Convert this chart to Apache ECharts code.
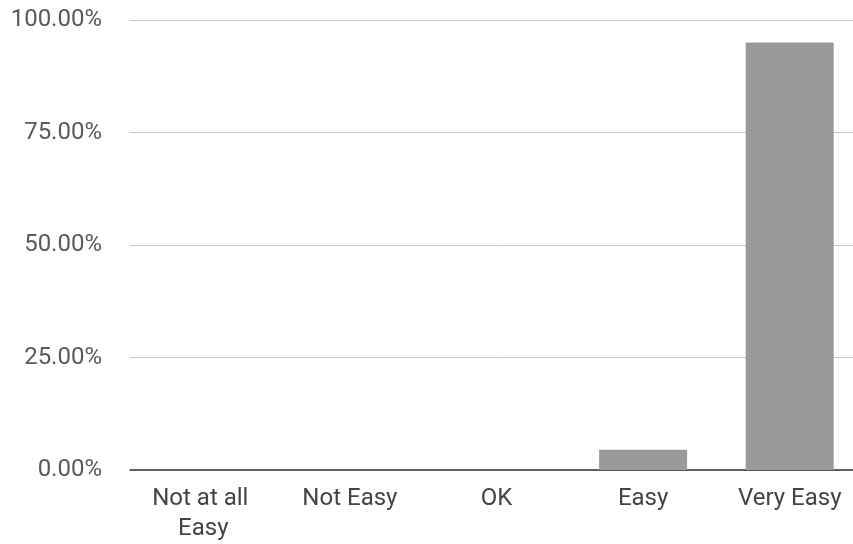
<!DOCTYPE html>
<html>
<head>
<meta charset="utf-8">
<script src="https://cdn.jsdelivr.net/npm/echarts@6/dist/echarts.min.js"></script>
<style>html,body{margin:0;padding:0;background:#fff;overflow:hidden;width:853px;height:544px;}#c{width:863px;height:544px;}</style>
</head>
<body>
<div id="c"></div>
<script>
const categories = ["Not at all Easy", "Not Easy", "OK", "Easy", "Very Easy"];
const values = [0, 0, 0, 4.5, 95];
const yTicks = [0, 25, 50, 75, 100];

const chart = echarts.init(document.getElementById('c'), null, {renderer: 'canvas'});
chart.setOption({
  animation: false,
  backgroundColor: '#ffffff',
  grid: {left: 130, right: 0, top: 20, bottom: 74, containLabel: false},
  xAxis: {
    type: 'category',
    data: categories,
    axisLine: {show: true, lineStyle: {color: '#333333', width: 1.5}},
    axisTick: {show: false},
    axisLabel: {
      color: '#444444', fontFamily: 'Roboto', fontSize: 24, margin: 14,
      lineHeight: 30, width: 120, overflow: 'break', interval: 0
    }
  },
  yAxis: {
    type: 'value',
    min: yTicks[0], max: yTicks[yTicks.length - 1], interval: 25,
    axisLine: {show: false},
    axisTick: {show: false},
    splitLine: {lineStyle: {color: '#cccccc', width: 1}},
    axisLabel: {
      color: '#5a5a5a', fontFamily: 'Roboto', fontSize: 24, margin: 28,
      formatter: v => v.toFixed(2) + '%'
    }
  },
  series: [{
    type: 'bar',
    data: values,
    barCategoryGap: '40%',
    itemStyle: {color: '#999999'}
  }]
});
</script>
</body>
</html>
